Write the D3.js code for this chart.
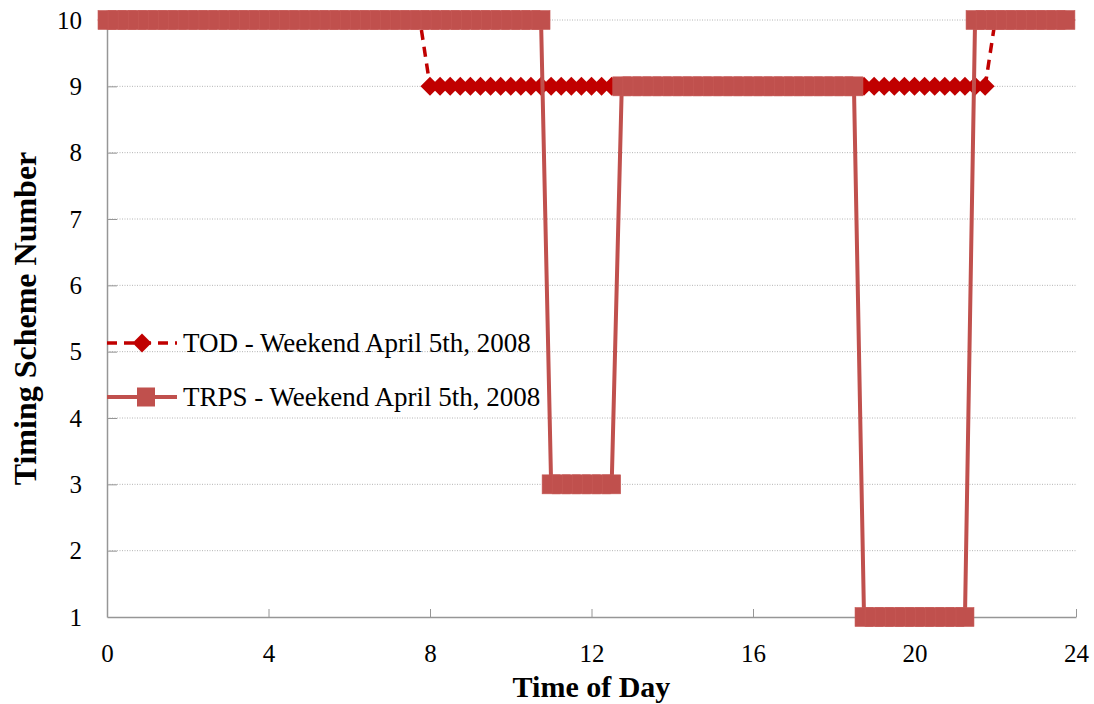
<!DOCTYPE html>
<html>
  <head>
    <meta charset="utf-8">
    <title>Timing Scheme Number by Time of Day</title>
    <script src="https://d3js.org/d3.v7.min.js"></script>
    <style>
      body { margin: 0; background: #fff; }
      text { font-family: "Liberation Serif", "Times New Roman", serif; }
    </style>
  </head>
  <body>
    <div id="chart"></div>
    <script>
      // time of day (hours), sampled every 15 minutes
      var hours = [
        0, 0.25, 0.5, 0.75, 1, 1.25, 1.5, 1.75, 2, 2.25, 2.5, 2.75,
        3, 3.25, 3.5, 3.75, 4, 4.25, 4.5, 4.75, 5, 5.25, 5.5, 5.75,
        6, 6.25, 6.5, 6.75, 7, 7.25, 7.5, 7.75, 8, 8.25, 8.5, 8.75,
        9, 9.25, 9.5, 9.75, 10, 10.25, 10.5, 10.75, 11, 11.25, 11.5, 11.75,
        12, 12.25, 12.5, 12.75, 13, 13.25, 13.5, 13.75, 14, 14.25, 14.5, 14.75,
        15, 15.25, 15.5, 15.75, 16, 16.25, 16.5, 16.75, 17, 17.25, 17.5, 17.75,
        18, 18.25, 18.5, 18.75, 19, 19.25, 19.5, 19.75, 20, 20.25, 20.5, 20.75,
        21, 21.25, 21.5, 21.75, 22, 22.25, 22.5, 22.75, 23, 23.25, 23.5, 23.75
      ];

      var todValues = [
        10, 10, 10, 10, 10, 10, 10, 10, 10, 10, 10, 10,
        10, 10, 10, 10, 10, 10, 10, 10, 10, 10, 10, 10,
        10, 10, 10, 10, 10, 10, 10, 10, 9, 9, 9, 9,
        9, 9, 9, 9, 9, 9, 9, 9, 9, 9, 9, 9,
        9, 9, 9, 9, 9, 9, 9, 9, 9, 9, 9, 9,
        9, 9, 9, 9, 9, 9, 9, 9, 9, 9, 9, 9,
        9, 9, 9, 9, 9, 9, 9, 9, 9, 9, 9, 9,
        9, 9, 9, 9, 10, 10, 10, 10, 10, 10, 10, 10
      ];

      var trpsValues = [
        10, 10, 10, 10, 10, 10, 10, 10, 10, 10, 10, 10,
        10, 10, 10, 10, 10, 10, 10, 10, 10, 10, 10, 10,
        10, 10, 10, 10, 10, 10, 10, 10, 10, 10, 10, 10,
        10, 10, 10, 10, 10, 10, 10, 10, 3, 3, 3, 3,
        3, 3, 3, 9, 9, 9, 9, 9, 9, 9, 9, 9,
        9, 9, 9, 9, 9, 9, 9, 9, 9, 9, 9, 9,
        9, 9, 9, 1, 1, 1, 1, 1, 1, 1, 1, 1,
        1, 1, 10, 10, 10, 10, 10, 10, 10, 10, 10, 10
      ];

      var xTicks = [0, 4, 8, 12, 16, 20, 24];
      var yTicks = [1, 2, 3, 4, 5, 6, 7, 8, 9, 10];
      var seriesNames = ["TOD - Weekend April 5th, 2008", "TRPS - Weekend April 5th, 2008"];

      var width = 1094;
      var height = 704;
      var margin = { top: 20, right: 18, bottom: 87, left: 107 };

      var svg = d3.select("#chart")
        .append("svg")
        .attr("width", width)
        .attr("height", height);

      var x = d3.scaleLinear()
        .domain([0, 24])
        .range([margin.left, width - margin.right]);

      var y = d3.scaleLinear()
        .domain([1, 10])
        .range([height - margin.bottom, margin.top]);

      // dotted gridlines
      svg.append("g")
        .selectAll("line")
        .data(yTicks.slice(1))
        .enter()
        .append("line")
        .attr("x1", x(0))
        .attr("x2", x(24))
        .attr("y1", function(d) { return y(d); })
        .attr("y2", function(d) { return y(d); })
        .attr("stroke", "#b4b4b4")
        .attr("stroke-width", 1)
        .attr("stroke-dasharray", "1,1.5");

      // axes (ticks point inward, like the original)
      var xAxis = svg.append("g")
        .attr("transform", "translate(0," + y(1) + ")")
        .call(d3.axisBottom(x).tickValues(xTicks).tickSizeInner(-8).tickSizeOuter(0).tickPadding(27));
      var yAxis = svg.append("g")
        .attr("transform", "translate(" + x(0) + ",0)")
        .call(d3.axisLeft(y).tickValues(yTicks).tickSizeInner(-10).tickSizeOuter(0).tickPadding(25));

      [xAxis, yAxis].forEach(function(a) {
        a.select(".domain").attr("stroke", "#969696").attr("stroke-width", 1.5);
        a.selectAll(".tick line").attr("stroke", "#969696").attr("stroke-width", 1);
        a.selectAll(".tick text")
          .attr("fill", "#000")
          .style("font-size", "25px")
          .style("font-family", "'Liberation Serif', serif");
      });
      yAxis.selectAll(".tick").filter(function(d) { return d === 1; }).select("line").remove();

      // axis titles
      svg.append("text")
        .attr("x", (x(0) + x(24)) / 2)
        .attr("y", 697)
        .attr("text-anchor", "middle")
        .style("font-size", "30px")
        .style("font-weight", "bold")
        .text("Time of Day");

      svg.append("text")
        .attr("transform", "translate(36," + (y(1) + y(10)) / 2 + ") rotate(-90)")
        .attr("text-anchor", "middle")
        .style("font-size", "32px")
        .style("font-weight", "bold")
        .text("Timing Scheme Number");

      var todData = hours.map(function(h, i) { return { h: h, v: todValues[i] }; });
      var trpsData = hours.map(function(h, i) { return { h: h, v: trpsValues[i] }; });

      var line = d3.line()
        .x(function(d) { return x(d.h); })
        .y(function(d) { return y(d.v); });

      var todColor = "#c00000";
      var trpsColor = "#c0504d";
      var diamond = d3.symbol().type(d3.symbolDiamond2).size(230);

      // TOD series
      svg.append("path")
        .datum(todData)
        .attr("d", line)
        .attr("fill", "none")
        .attr("stroke", todColor)
        .attr("stroke-width", 3.5)
        .attr("stroke-dasharray", "10,7");

      svg.append("g")
        .selectAll("path")
        .data(todData)
        .enter()
        .append("path")
        .attr("d", diamond)
        .attr("transform", function(d) { return "translate(" + x(d.h) + "," + y(d.v) + ")"; })
        .attr("fill", todColor);

      // TRPS series
      svg.append("path")
        .datum(trpsData)
        .attr("d", line)
        .attr("fill", "none")
        .attr("stroke", trpsColor)
        .attr("stroke-width", 4);

      svg.append("g")
        .selectAll("rect")
        .data(trpsData)
        .enter()
        .append("rect")
        .attr("x", function(d) { return x(d.h) - 9; })
        .attr("y", function(d) { return y(d.v) - 9.5; })
        .attr("width", 18)
        .attr("height", 19)
        .attr("fill", trpsColor)
        .attr("stroke", "#c65a57")
        .attr("stroke-width", 0.6);

      // legend
      var legend = svg.append("g").attr("transform", "translate(107,343)");

      legend.append("line")
        .attr("x1", 0).attr("x2", 70).attr("y1", 0).attr("y2", 0)
        .attr("stroke", todColor).attr("stroke-width", 3.5)
        .attr("stroke-dasharray", "10,7");
      legend.append("path")
        .attr("d", diamond)
        .attr("transform", "translate(35,0)")
        .attr("fill", todColor);

      legend.append("line")
        .attr("x1", 0).attr("x2", 70).attr("y1", 54).attr("y2", 54)
        .attr("stroke", trpsColor).attr("stroke-width", 4);
      legend.append("rect")
        .attr("x", 30).attr("y", 54 - 9.5)
        .attr("width", 18).attr("height", 19)
        .attr("fill", trpsColor);

      legend.selectAll("text")
        .data(seriesNames)
        .enter()
        .append("text")
        .attr("x", 76)
        .attr("y", function(d, i) { return i * 54 + 9; })
        .style("font-size", "27px")
        .text(function(d) { return d; });
    </script>
  </body>
</html>
